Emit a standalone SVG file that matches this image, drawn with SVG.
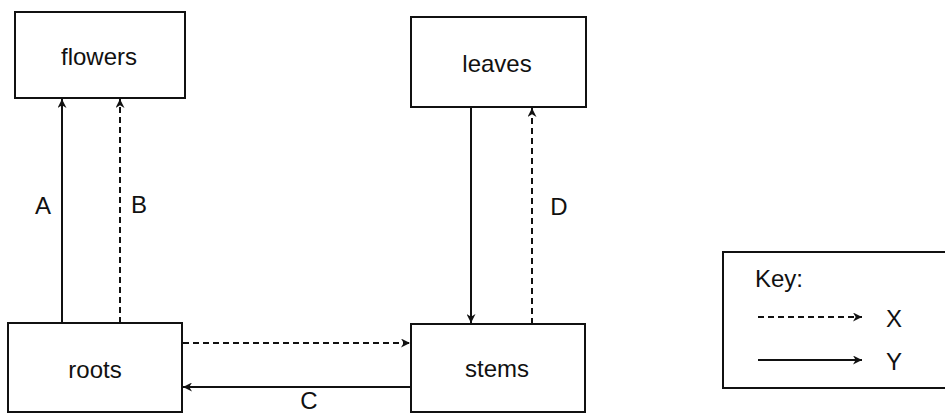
<svg xmlns="http://www.w3.org/2000/svg" width="945" height="415" viewBox="0 0 945 415">
<style>
.box{fill:#fff;stroke:#111;stroke-width:2}
.t{font-family:"Liberation Sans",Arial,sans-serif;font-size:24px;fill:#111;text-anchor:middle}
.s{stroke:#111;stroke-width:2;fill:none}
.d{stroke:#111;stroke-width:2;fill:none;stroke-dasharray:6 4}
</style>
<defs>
<marker id="ah" viewBox="0 0 10 10" refX="10" refY="5" markerWidth="10" markerHeight="9" markerUnits="userSpaceOnUse" orient="auto">
<path d="M0,0 L10,5 L0,10 L3,5 Z" fill="#111"/>
</marker>
</defs>
<rect width="945" height="415" fill="#fff"/>
<g id="flowers"><rect class="box" x="15" y="12" width="170" height="86"/><text class="t" x="99" y="65">flowers</text></g>
<g id="leaves"><rect class="box" x="411" y="17" width="175" height="90"/><text class="t" x="497" y="72">leaves</text></g>
<g id="roots"><rect class="box" x="8" y="323" width="174" height="89"/><text class="t" x="95" y="378">roots</text></g>
<g id="stems"><rect class="box" x="411" y="324" width="174" height="88"/><text class="t" x="497" y="377">stems</text></g>
<g id="connectors">
<line class="s" x1="62" y1="323" x2="62" y2="99" marker-end="url(#ah)"/>
<line class="d" x1="120" y1="323" x2="120" y2="99" marker-end="url(#ah)"/>
<line class="s" x1="471" y1="107" x2="471" y2="323" marker-end="url(#ah)"/>
<line class="d" x1="532" y1="324" x2="532" y2="108" marker-end="url(#ah)"/>
<line class="d" x1="183" y1="343" x2="410" y2="343" marker-end="url(#ah)"/>
<line class="s" x1="411" y1="387" x2="183" y2="387" marker-end="url(#ah)"/>
<text class="t" x="43" y="214">A</text>
<text class="t" x="139" y="213">B</text>
<text class="t" x="559" y="215">D</text>
<text class="t" x="309" y="409">C</text>
</g>
<g id="key">
<rect class="box" x="723" y="252" width="232" height="136"/>
<text class="t" x="779" y="287">Key:</text>
<line class="d" x1="758" y1="317" x2="862" y2="317" marker-end="url(#ah)"/>
<text class="t" x="894" y="327">X</text>
<line class="s" x1="758" y1="360" x2="862" y2="360" marker-end="url(#ah)"/>
<text class="t" x="894" y="370">Y</text>
</g>
</svg>
